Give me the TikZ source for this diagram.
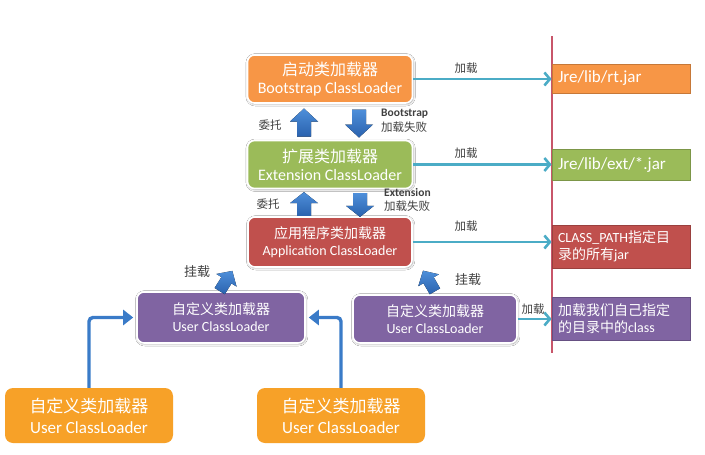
\documentclass[tikz,border=0pt]{standalone}
\usepackage{fontspec}
\setmainfont{Carlito}
\newfontfamily\cjk{Noto Sans CJK SC}
\usetikzlibrary{arrows.meta,shadows.blur}
\definecolor{cboot}{HTML}{F79646}
\definecolor{cext}{HTML}{9BBB59}
\definecolor{capp}{HTML}{C0504D}
\definecolor{cuser}{HTML}{8064A2}
\definecolor{cbot}{HTML}{F7A128}
\definecolor{ccyan}{HTML}{4BACC6}
\definecolor{cblue}{HTML}{3A7BC8}
\definecolor{cbluelight}{HTML}{4E8FDA}
\definecolor{cbluedark}{HTML}{2A62AE}
\definecolor{cline}{HTML}{C8566A}
\definecolor{clabel}{HTML}{404040}
\begin{document}
\begin{tikzpicture}[x=1pt,y=-1pt,
  loaderbox/.style={rounded corners=7pt, draw=white, line width=1.6pt,
    align=center, text=white, inner sep=0pt,
    blur shadow={shadow xshift=0.6pt, shadow yshift=-0.8pt, shadow blur radius=2.2pt, shadow opacity=45}},
  bigfont/.style={font=\fontsize{16}{18}\selectfont},
  midfont/.style={font=\fontsize{14}{17}\selectfont},
  botbox/.style={rounded corners=8pt, fill=cbot, align=center, text=white, inner sep=0pt,
    minimum width=168pt, minimum height=55pt, font=\fontsize{17}{21}\selectfont},
  pathbox/.style={rectangle, line width=0.8pt, text width=126pt, align=left, inner xsep=6pt,
    inner ysep=0pt, text=white, minimum width=138pt, font=\fontsize{14}{16.5}\selectfont},
  loadarrow/.style={draw=ccyan, line width=2.6pt, -{Straight Barb[length=5.5pt,width=13pt,line width=2.6pt]}},
  linkarrow/.style={draw=cblue, line width=3.4pt, rounded corners=4pt, -{Triangle[length=10pt,width=15pt]}, shorten >=3pt},
  lbl/.style={text=clabel, inner sep=0pt, font=\fontsize{11.5}{15}\selectfont},
  uparrow/.pic={\fill[top color=cbluelight, bottom color=cbluedark]
     (-7,14) -- (7,14) -- (7,-1) -- (14,-1) -- (0,-14) -- (-14,-1) -- (-7,-1) -- cycle;},
  downarrow/.pic={\fill[top color=cbluelight, bottom color=cbluedark]
     (-7,-14) -- (7,-14) -- (7,1) -- (14,1) -- (0,14) -- (-14,1) -- (-7,1) -- cycle;}
]
\useasboundingbox (0,0) rectangle (705,455);
\fill[white] (0,0) rectangle (705,455);

% vertical separator
\coordinate (ltop) at (552,36);
\coordinate (lbot) at (552,353);
\draw[cline, line width=2.4pt] (ltop) -- (lbot);

% loader boxes
\node[loaderbox, bigfont, fill=cboot, minimum width=165pt, minimum height=48pt] (boot) at (330,79)
  {{\cjk 启动类加载器}\\Bootstrap ClassLoader};
\node[loaderbox, bigfont, fill=cext, minimum width=165pt, minimum height=48pt] (ext) at (330,164.5)
  {{\cjk 扩展类加载器}\\Extension ClassLoader};
\node[loaderbox, midfont, fill=capp, minimum width=164pt, minimum height=50pt] (app) at (330,242)
  {{\cjk 应用程序类加载器}\\Application ClassLoader};
\node[loaderbox, midfont, fill=cuser, minimum width=168pt, minimum height=51pt] (ucl) at (221,317.5)
  {{\cjk 自定义类加载器}\\User ClassLoader};
\node[loaderbox, midfont, fill=cuser, minimum width=164pt, minimum height=48pt] (ucr) at (435,319)
  {{\cjk 自定义类加载器}\\User ClassLoader};

% bottom user loaders
\node[botbox] (ob1) at (89,415.5) {{\cjk 自定义类加载器}\\User ClassLoader};
\node[botbox] (ob2) at (341,415.5) {{\cjk 自定义类加载器}\\User ClassLoader};

% path boxes
\node[pathbox, fill=cboot, draw=cboot!80!black, minimum height=29pt, font=\fontsize{17}{20}\selectfont] (rt) at (621,78.5) {Jre/lib/rt.jar};
\node[pathbox, fill=cext, draw=cext!80!black, minimum height=31pt, font=\fontsize{17}{20}\selectfont] (extjar) at (621,165) {Jre/lib/ext/*.jar};
\node[pathbox, fill=capp, draw=capp!80!black, minimum height=43pt] (cp) at (621,246.5)
  {CLASS\_PATH{\cjk 指定目}\\{\cjk 录的所有}jar};
\node[pathbox, fill=cuser, draw=cuser!80!black, minimum height=43pt] (mine) at (621,318.5)
  {{\cjk 加载我们自己指定}\\{\cjk 的目录中的}class};

% load arrows
\draw[loadarrow] (boot.east) -- (boot.east -| rt.west);
\draw[loadarrow] (ext.east) -- (ext.east -| extjar.west);
\draw[loadarrow] (app.east) -- (app.east -| cp.west);
\draw[loadarrow, line width=2.4pt] (ucr.east) -- (ucr.east -| mine.west);
\node[lbl, font=\cjk\fontsize{11.5}{14}\selectfont] (l1) at (466,68) {加载};
\node[lbl, font=\cjk\fontsize{11.5}{14}\selectfont] (l2) at (466,153) {加载};
\node[lbl, font=\cjk\fontsize{11.5}{14}\selectfont] (l3) at (466,226) {加载};
\node[lbl, font=\cjk\fontsize{11.5}{14}\selectfont] (l4) at (533,309) {加载};

% delegation block arrows
\pic at (304,122.5) {uparrow};
\pic at (359,123.5) {downarrow};
\pic[yscale=0.85] at (304,204) {uparrow};
\pic[yscale=0.85] at (360,205) {downarrow};
\node[lbl, font=\cjk\fontsize{11.5}{14}\selectfont] (w1) at (270,125) {委托};
\node[lbl, font=\cjk\fontsize{11.5}{14}\selectfont] (w2) at (268,204) {委托};
\node[lbl, anchor=north west, align=left, font=\fontsize{11.5}{14.5}\selectfont] (f1) at (381,109)
  {\textbf{Bootstrap}\\{\cjk 加载失败}};
\node[lbl, anchor=north west, align=left, font=\fontsize{11.5}{14.5}\selectfont] (f2) at (384,188)
  {\textbf{Extension}\\{\cjk 加载失败}};

% mount arrows
\pic[scale=0.85, rotate=-32] at (226,281) {uparrow};
\pic[scale=0.85, rotate=30] at (429,281) {uparrow};
\node[lbl, font=\cjk\fontsize{13}{15}\selectfont] (m1) at (197,272) {挂载};
\node[lbl, font=\cjk\fontsize{13}{15}\selectfont] (m2) at (468,280) {挂载};

% links from the bottom loaders
\draw[linkarrow] (ob1.north) |- (ucl.west);
\draw[linkarrow] (ob2.north) |- (ucl.east);
\end{tikzpicture}
\end{document}
